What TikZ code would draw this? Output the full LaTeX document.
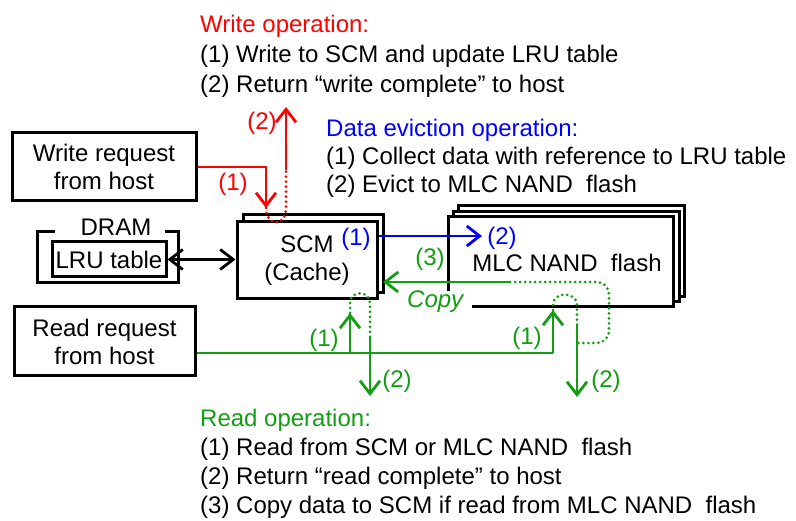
\documentclass[tikz,border=0pt]{standalone}
\usepackage{fontspec}
\setmainfont{Liberation Sans}
\usetikzlibrary{arrows.meta}
\definecolor{wred}{RGB}{255,0,0}
\definecolor{eblue}{RGB}{0,0,255}
\definecolor{rgreen}{RGB}{18,158,18}

\begin{document}
\begin{tikzpicture}[x=1pt,y=-1pt,
  every node/.style={font=\fontsize{24}{28}\selectfont},
  box/.style={draw, line width=3pt, fill=white, align=center, inner sep=0pt},
  frame/.style={line width=3pt},
  wire/.style={line width=2.8pt},
  tip/.style={-{Straight Barb[length=13pt,width=20pt]}},
  dots/.style={line width=3pt, line cap=round, dash pattern=on 0pt off 5pt},
  txt/.style={anchor=base west, inner sep=0pt},
  lbl/.style={inner sep=0pt}]
\useasboundingbox (0,0) rectangle (796,521);

% ---- operation descriptions
\node[txt, text=wred] (wh) at (200,33) {Write operation:};
\node[txt] (w1) at (200,63) {(1) Write to SCM and update LRU table};
\node[txt] (w2) at (200,93) {(2) Return “write complete” to host};
\node[txt, text=eblue] (eh) at (326,137) {Data eviction operation:};
\node[txt] (e1) at (326,165) {(1) Collect data with reference to LRU table};
\node[txt] (e2) at (326,193) {(2) Evict to MLC NAND\ \ flash};
\node[txt, text=rgreen] (rh) at (200,427) {Read operation:};
\node[txt] (r1) at (200,456) {(1) Read from SCM or MLC NAND\ \ flash};
\node[txt] (r2) at (200,485) {(2) Return “read complete” to host};
\node[txt] (r3) at (200,514) {(3) Copy data to SCM if read from MLC NAND\ \ flash};

% ---- host request boxes
\node[box, minimum width=184pt, minimum height=68pt] (wr) at (104,167) {Write request\\from host};
\node[box, minimum width=181pt, minimum height=69pt] (rd) at (104.5,341.5) {Read request\\from host};

% ---- DRAM holding the LRU table
\draw[frame] (55,232) -- (37,232) -- (37,283) -- (178,283) -- (178,232) -- (165,232);
\node[anchor=base, inner sep=0pt] (dram) at (116,236) {DRAM};
\node[box, minimum width=114pt, minimum height=35pt] (lru) at (109,259.5) {LRU table};

% ---- SCM cache (two layers)
\draw[frame, fill=white] (243,215) rectangle (383,293);
\node[box, minimum width=140pt, minimum height=77pt] (scm) at (307,260.5) {SCM\\(Cache)};

% ---- MLC NAND flash (three layers)
\draw[frame, fill=white] (458,206) rectangle (684,297);
\draw[frame, fill=white] (453,212) rectangle (679,302);
\node[box, minimum width=225pt, minimum height=90pt] (mlc) at (560.5,262) {};
\node[anchor=base, inner sep=0pt] (mlct) at (567,272) {MLC NAND\ \ flash};

% ---- LRU table <-> SCM
\draw[wire, {Straight Barb[length=13pt,width=20pt]}-{Straight Barb[length=13pt,width=20pt]}]
  (lru.east) -- (lru.east -| scm.west);

% ---- write path (red)
\coordinate (wdown) at (266,208);
\coordinate (wupa) at (286,170);
\coordinate (wtop) at (286,107);
\draw[wire, wred, tip] (wr.east) -| (wdown);
\draw[dots, wred] (wdown) .. controls (266,227) and (286,227) .. (286,208) -- (wupa);
\draw[wire, wred, tip] (wupa) -- (wtop);
\node[lbl, text=wred] (wl1) at (233,184) {(1)};
\node[lbl, text=wred] (wl2) at (262,123) {(2)};

% ---- eviction path (blue)
\coordinate (etip) at (482,236);
\draw[wire, eblue, tip] (scm.east |- etip) -- (etip);
\node[lbl, text=eblue] (el1) at (356,239) {(1)};
\node[lbl, text=eblue] (el2) at (502,238) {(2)};

% ---- read path (green)
\coordinate (gj) at (553,353);
\coordinate (gjl) at (350,353);
\coordinate (gtipl) at (350,313);
\coordinate (gtipr) at (553,310);
\coordinate (gdl) at (370,337);
\coordinate (gendl) at (370,396);
\coordinate (gdr) at (577,325);
\coordinate (gendr) at (577,397);
\coordinate (gcopy) at (510,282);
\coordinate (gcopyend) at (383,282);
\draw[wire, rgreen] (rd.east |- gj) -- (gj);
\draw[wire, rgreen, tip] (gj) -- (gtipr);
\draw[wire, rgreen, tip] (gjl) -- (gtipl);
\draw[dots, rgreen] (gtipl) -- (350,303) .. controls (350,290) and (370,290) .. (370,303) -- (gdl);
\draw[wire, rgreen, tip] (gdl) -- (gendl);
\draw[dots, rgreen] (gtipr) -- (553,305) .. controls (553,291) and (577,291) .. (577,305) -- (gdr);
\draw[wire, rgreen, tip] (gdr) -- (gendr);
\draw[dots, rgreen, rounded corners=12pt] (gcopy) -- (609,282) -- (609,343) -- (577,343);
\draw[wire, rgreen, tip] (gcopy) -- (gcopyend);
\node[lbl, text=rgreen] (gl3) at (430,259) {(3)};
\node[txt, fill=white, inner xsep=9pt, inner ysep=0.5pt, text=rgreen] (copy) at (398,308) {\itshape Copy};
\node[lbl, text=rgreen] (gl1a) at (324,340) {(1)};
\node[lbl, text=rgreen] (gl2a) at (397,381) {(2)};
\node[lbl, text=rgreen] (gl1b) at (527,338) {(1)};
\node[lbl, text=rgreen] (gl2b) at (606,381) {(2)};
\end{tikzpicture}
\end{document}
